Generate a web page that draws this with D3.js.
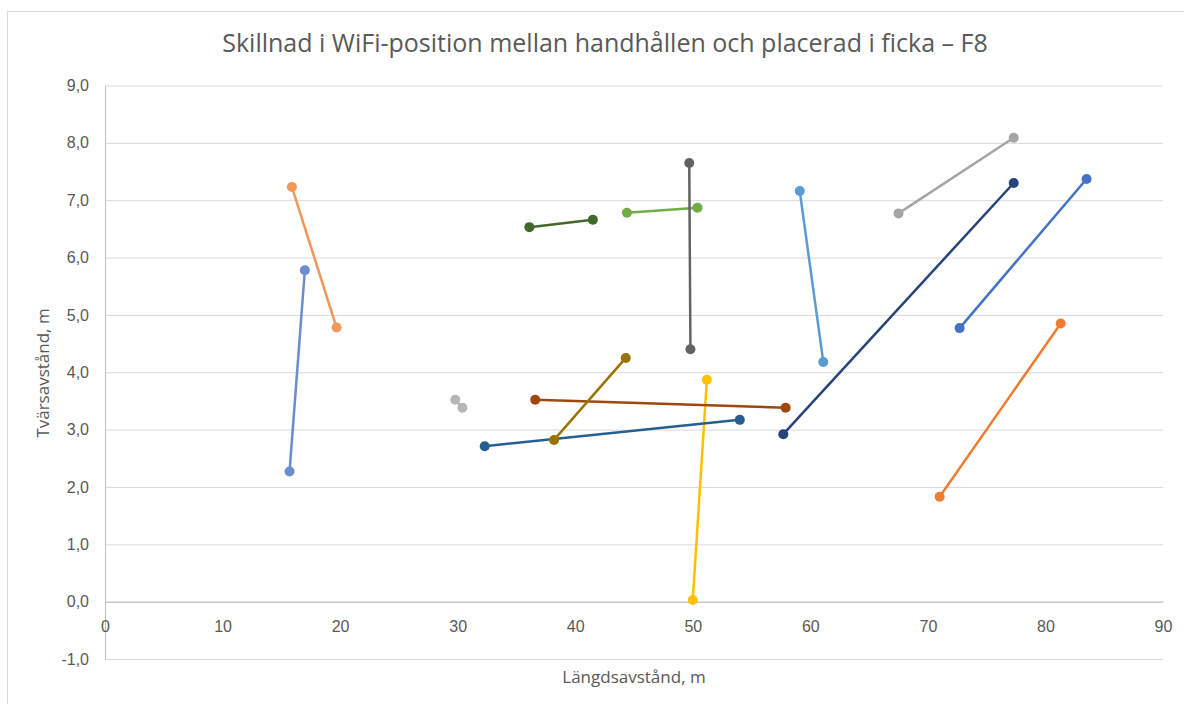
<!DOCTYPE html>
<meta charset="utf-8">
<style>
 body { margin: 0; background: #fff; }
 svg { font-family: "Open Sans", sans-serif; }
 .tick text { fill: #595959; font-size: 16px; }
 .grid line { stroke: #d9d9d9; }
</style>
<body>
<svg width="1184" height="704"></svg>
<script src="https://cdn.jsdelivr.net/npm/d3@7/dist/d3.min.js"></script>
<script>
// one row per measuring point: start (handheld) and end (in pocket)
var startX = [72.7, 71.0, 67.5, 50.0, 59.1, 44.4, 57.7, 36.6, 49.7, 38.2, 32.3, 36.1, 15.7, 15.9, 29.8];
var startY = [4.77, 1.83, 6.77, 0.03, 7.16, 6.78, 2.92, 3.52, 7.65, 2.82, 2.71, 6.53, 2.27, 7.23, 3.52];
var endX   = [83.5, 81.3, 77.3, 51.2, 61.1, 50.4, 77.3, 57.9, 49.8, 44.3, 54.0, 41.5, 17.0, 19.7, 30.4];
var endY   = [7.37, 4.85, 8.09, 3.87, 4.18, 6.87, 7.30, 3.38, 4.40, 4.25, 3.17, 6.66, 5.78, 4.78, 3.38];
var xTicks = [0, 10, 20, 30, 40, 50, 60, 70, 80, 90];
var yTicks = [-1, 0, 1, 2, 3, 4, 5, 6, 7, 8, 9];

var colors = ["#4472c4", "#ed7d31", "#a5a5a5", "#ffc000", "#5b9bd5", "#70ad47",
              "#264478", "#9e480e", "#636363", "#997300", "#255e91", "#43682b",
              "#698ed0", "#f1975a", "#b7b7b7"];

var svg = d3.select("svg");
var pLeft = 105, pRight = 1163, pTop = 85.5, pBottom = 659;

// outer chart frame
svg.append("rect")
   .attr("x", 7.5).attr("y", 11.5)
   .attr("width", 1200).attr("height", 720)
   .attr("fill", "none").attr("stroke", "#d9d9d9");

var x = d3.scaleLinear().domain([0, 90]).range([pLeft, pRight]);
var y = d3.scaleLinear().domain([-1, 9]).range([pBottom, pTop]);
var fmt = function(d){ return d3.format(".1f")(d).replace(".", ",").replace("\u2212", "-"); };

// horizontal gridlines
svg.append("g")
   .attr("class", "grid")
   .attr("transform", "translate(" + pLeft + ",0)")
   .call(d3.axisLeft(y).tickValues(yTicks).tickSize(-(pRight - pLeft)).tickFormat(""))
   .call(function(g){ g.select(".domain").remove(); });

// y axis labels
svg.append("g")
   .attr("transform", "translate(" + pLeft + ",0)")
   .call(d3.axisLeft(y).tickValues(yTicks).tickSize(0).tickPadding(16).tickFormat(fmt))
   .call(function(g){
       g.select(".domain").attr("stroke", "#bfbfbf");
   });

// x axis sits on y = 0
svg.append("g")
   .attr("transform", "translate(0," + y(0) + ")")
   .call(d3.axisBottom(x).tickValues(xTicks).tickSize(0).tickPadding(19))
   .call(function(g){ g.select(".domain").attr("stroke", "#bfbfbf"); });

var idx = d3.range(startX.length);
var plot = svg.append("g");

plot.selectAll("line.seg").data(idx).enter().append("line")
    .attr("class", "seg")
    .attr("x1", function(i){ return x(startX[i]); })
    .attr("y1", function(i){ return y(startY[i]); })
    .attr("x2", function(i){ return x(endX[i]); })
    .attr("y2", function(i){ return y(endY[i]); })
    .attr("stroke", function(i){ return colors[i]; })
    .attr("stroke-width", 2.5);

idx.forEach(function(i){
    [[startX[i], startY[i]], [endX[i], endY[i]]].forEach(function(p){
        plot.append("circle")
            .attr("cx", x(p[0])).attr("cy", y(p[1]))
            .attr("r", 5)
            .attr("fill", colors[i]);
    });
});

svg.append("text")
   .attr("x", 605).attr("y", 52)
   .attr("text-anchor", "middle")
   .attr("fill", "#595959")
   .style("font-size", "25px")
   .text("Skillnad i WiFi-position mellan handhållen och placerad i ficka – F8");

svg.append("text")
   .attr("x", 634).attr("y", 683)
   .attr("text-anchor", "middle")
   .attr("fill", "#595959")
   .style("font-size", "17px")
   .text("Längdsavstånd, m");

svg.append("text")
   .attr("transform", "translate(49,373) rotate(-90)")
   .attr("text-anchor", "middle")
   .attr("fill", "#595959")
   .style("font-size", "17px")
   .text("Tvärsavstånd, m");
</script>
</body>
